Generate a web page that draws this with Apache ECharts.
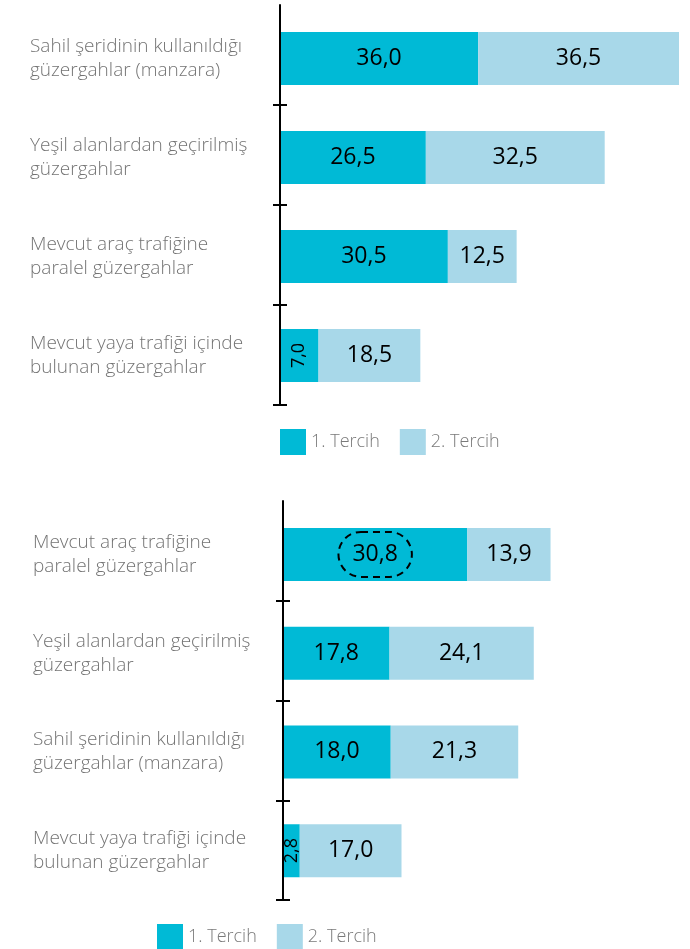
<!DOCTYPE html>
<html>
<head>
<meta charset="utf-8">
<script src="https://cdn.jsdelivr.net/npm/echarts@6/dist/echarts.min.js"></script>
<style>
html,body{margin:0;padding:0;background:#fff;}
#chart{width:690px;height:949px;}
</style>
</head>
<body>
<div id="chart"></div>
<script>
// ---- data ----
var seriesNames = ['1. Tercih', '2. Tercih'];

var topCategories = [
  'Sahil şeridinin kullanıldığı\ngüzergahlar (manzara)',
  'Yeşil alanlardan geçirilmiş\ngüzergahlar',
  'Mevcut araç trafiğine\nparalel güzergahlar',
  'Mevcut yaya trafiği içinde\nbulunan güzergahlar'
];
var topFirst = [36.0, 26.5, 30.5, 7.0];
var topSecond = [36.5, 32.5, 12.5, 18.5];

var bottomCategories = [
  'Mevcut araç trafiğine\nparalel güzergahlar',
  'Yeşil alanlardan geçirilmiş\ngüzergahlar',
  'Sahil şeridinin kullanıldığı\ngüzergahlar (manzara)',
  'Mevcut yaya trafiği içinde\nbulunan güzergahlar'
];
var bottomFirst = [30.8, 17.8, 18.0, 2.8];
var bottomSecond = [13.9, 24.1, 21.3, 17.0];
var highlightedIndex = 0; // circled value in bottom chart (1. Tercih)

// ---- styling ----
var C1 = '#00bad6';
var C2 = '#a8d8e9';
var FONT = "'Open Sans', 'DejaVu Sans', sans-serif";

function fmt(v) { return v.toFixed(1).replace('.', ','); }

function buildData(arr, highlight) {
  return arr.map(function (v, i) {
    var item = { value: v };
    if (v < 10) {
      item.label = { rotate: 90, fontSize: 18 };
    }
    if (highlight === i) {
      item.label = {
        borderColor: '#000', borderWidth: 2, borderType: [7, 5],
        borderRadius: 24, padding: [11, 14]
      };
    }
    return item;
  });
}

var valueLabel = {
  show: true, position: 'inside', color: '#000', fontSize: 23,
  fontFamily: FONT, formatter: function (p) { return fmt(p.value); }
};

// axis carrying the category labels (line drawn by the tick axis)
function catAxis(gridIndex, cats) {
  return {
    type: 'category', gridIndex: gridIndex, data: cats, inverse: true,
    axisLine: { show: false },
    axisTick: { show: false },
    axisLabel: {
      show: true, align: 'left', margin: 250, color: '#747474',
      fontSize: 19, lineHeight: 24, fontFamily: FONT, fontWeight: 300
    },
    splitLine: { show: false }
  };
}
// narrow axis: vertical line + crossing ticks at category boundaries
function tickAxis(gridIndex, cats) {
  return {
    type: 'category', gridIndex: gridIndex, data: cats, inverse: true, z: 5,
    offset: -7,
    axisLine: { show: true, lineStyle: { color: '#000', width: 2 } },
    axisTick: { show: false }, axisLabel: { show: false },
    splitLine: { show: true, showMinLine: false, showMaxLine: true,
      lineStyle: { color: '#000', width: 2 } }
  };
}
function valAxis(gridIndex, max) {
  return {
    type: 'value', gridIndex: gridIndex, min: 0, max: max, show: false,
    splitLine: { show: false }
  };
}

var legendText = { color: '#7a7a7a', fontSize: 18, fontFamily: FONT, fontWeight: 300 };

var chart = echarts.init(document.getElementById('chart'), null, { renderer: 'canvas' });
chart.setOption({
  animation: false,
  backgroundColor: '#fff',
  textStyle: { fontFamily: FONT },
  grid: [
    { left: 280, top: 9, width: 410, height: 396 },
    { left: 283, top: 505, width: 407, height: 395 },
    { left: 273, top: 5, width: 14, height: 400, z: 5 },
    { left: 276, top: 501, width: 14, height: 399, z: 5 }
  ],
  xAxis: [valAxis(0, 74.5), valAxis(1, 68), valAxis(2, 1), valAxis(3, 1)],
  yAxis: [catAxis(0, topCategories), catAxis(1, bottomCategories),
          tickAxis(2, topCategories), tickAxis(3, bottomCategories)],
  legend: [
    { left: 280, top: 429, padding: 0, itemWidth: 26, itemHeight: 26, itemGap: 20, icon: 'rect',
      data: seriesNames, selectedMode: false, textStyle: legendText },
    { left: 157, top: 924, padding: 0, itemWidth: 26, itemHeight: 26, itemGap: 20, icon: 'rect',
      data: seriesNames, selectedMode: false, textStyle: legendText }
  ],
  series: [
    { name: seriesNames[0], type: 'bar', stack: 'top', xAxisIndex: 0, yAxisIndex: 0,
      barWidth: 53, itemStyle: { color: C1 }, label: valueLabel, data: buildData(topFirst, -1) },
    { name: seriesNames[1], type: 'bar', stack: 'top', xAxisIndex: 0, yAxisIndex: 0,
      barWidth: 53, itemStyle: { color: C2 }, label: valueLabel, data: buildData(topSecond, -1) },
    { name: seriesNames[0], type: 'bar', stack: 'bottom', xAxisIndex: 1, yAxisIndex: 1,
      barWidth: 53, itemStyle: { color: C1 }, label: valueLabel, data: buildData(bottomFirst, highlightedIndex) },
    { name: seriesNames[1], type: 'bar', stack: 'bottom', xAxisIndex: 1, yAxisIndex: 1,
      barWidth: 53, itemStyle: { color: C2 }, label: valueLabel, data: buildData(bottomSecond, -1) }
  ]
});
</script>
</body>
</html>
